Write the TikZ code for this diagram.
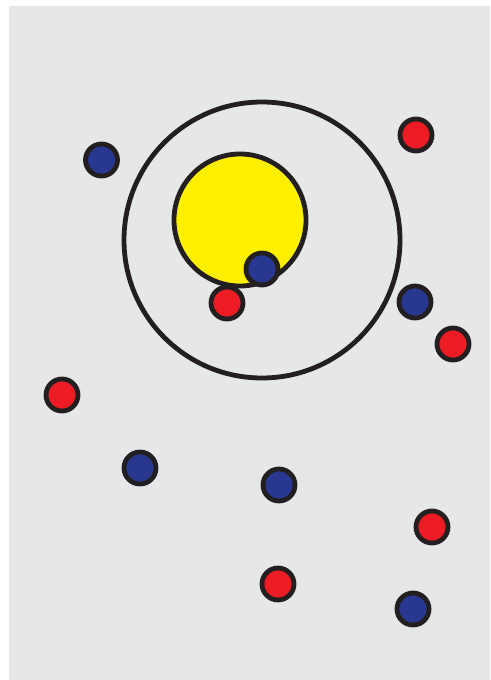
\documentclass[tikz,border=0pt]{standalone}
\usetikzlibrary{positioning}

\definecolor{bggray}{HTML}{E6E7E9}
\definecolor{sunyellow}{HTML}{FFF000}
\definecolor{dotred}{HTML}{ED1C24}
\definecolor{dotblue}{HTML}{283891}
\definecolor{outline}{HTML}{231F20}

\begin{document}
\begin{tikzpicture}[
  x=1pt, y=-1pt,
  ring/.style={circle, draw=outline, line width=4.8pt, inner sep=0pt, minimum size=276pt},
  sun/.style={circle, draw=outline, fill=sunyellow, line width=4.8pt, inner sep=0pt, minimum size=132pt},
  reddot/.style={circle, draw=outline, fill=dotred, line width=4.8pt, inner sep=0pt, minimum size=32pt},
  bluedot/.style={circle, draw=outline, fill=dotblue, line width=4.8pt, inner sep=0pt, minimum size=32pt}
]
  %% canvas
  \useasboundingbox (0,0) rectangle (490,680);
  \fill[bggray] (9,6) rectangle (490,680);

  %% orbit and centre
  \node[ring] (orbit) at (262,240) {};
  \node[sun] (centre) at (240,220) {};

  %% red dots
  \node[reddot] (r1) at (416,135) {};
  \node[reddot] (r2) at (227,303) {};
  \node[reddot] (r3) at (453,344) {};
  \node[reddot] (r4) at (62,395) {};
  \node[reddot] (r5) at (432,527) {};
  \node[reddot] (r6) at (278,584) {};

  %% blue dots
  \node[bluedot] (b1) at (101.5,160) {};
  \node[bluedot] (b2) at (262,269) {};
  \node[bluedot] (b3) at (415,302) {};
  \node[bluedot] (b4) at (140,468) {};
  \node[bluedot] (b5) at (279,485) {};
  \node[bluedot] (b6) at (413,609) {};

\end{tikzpicture}
\end{document}
